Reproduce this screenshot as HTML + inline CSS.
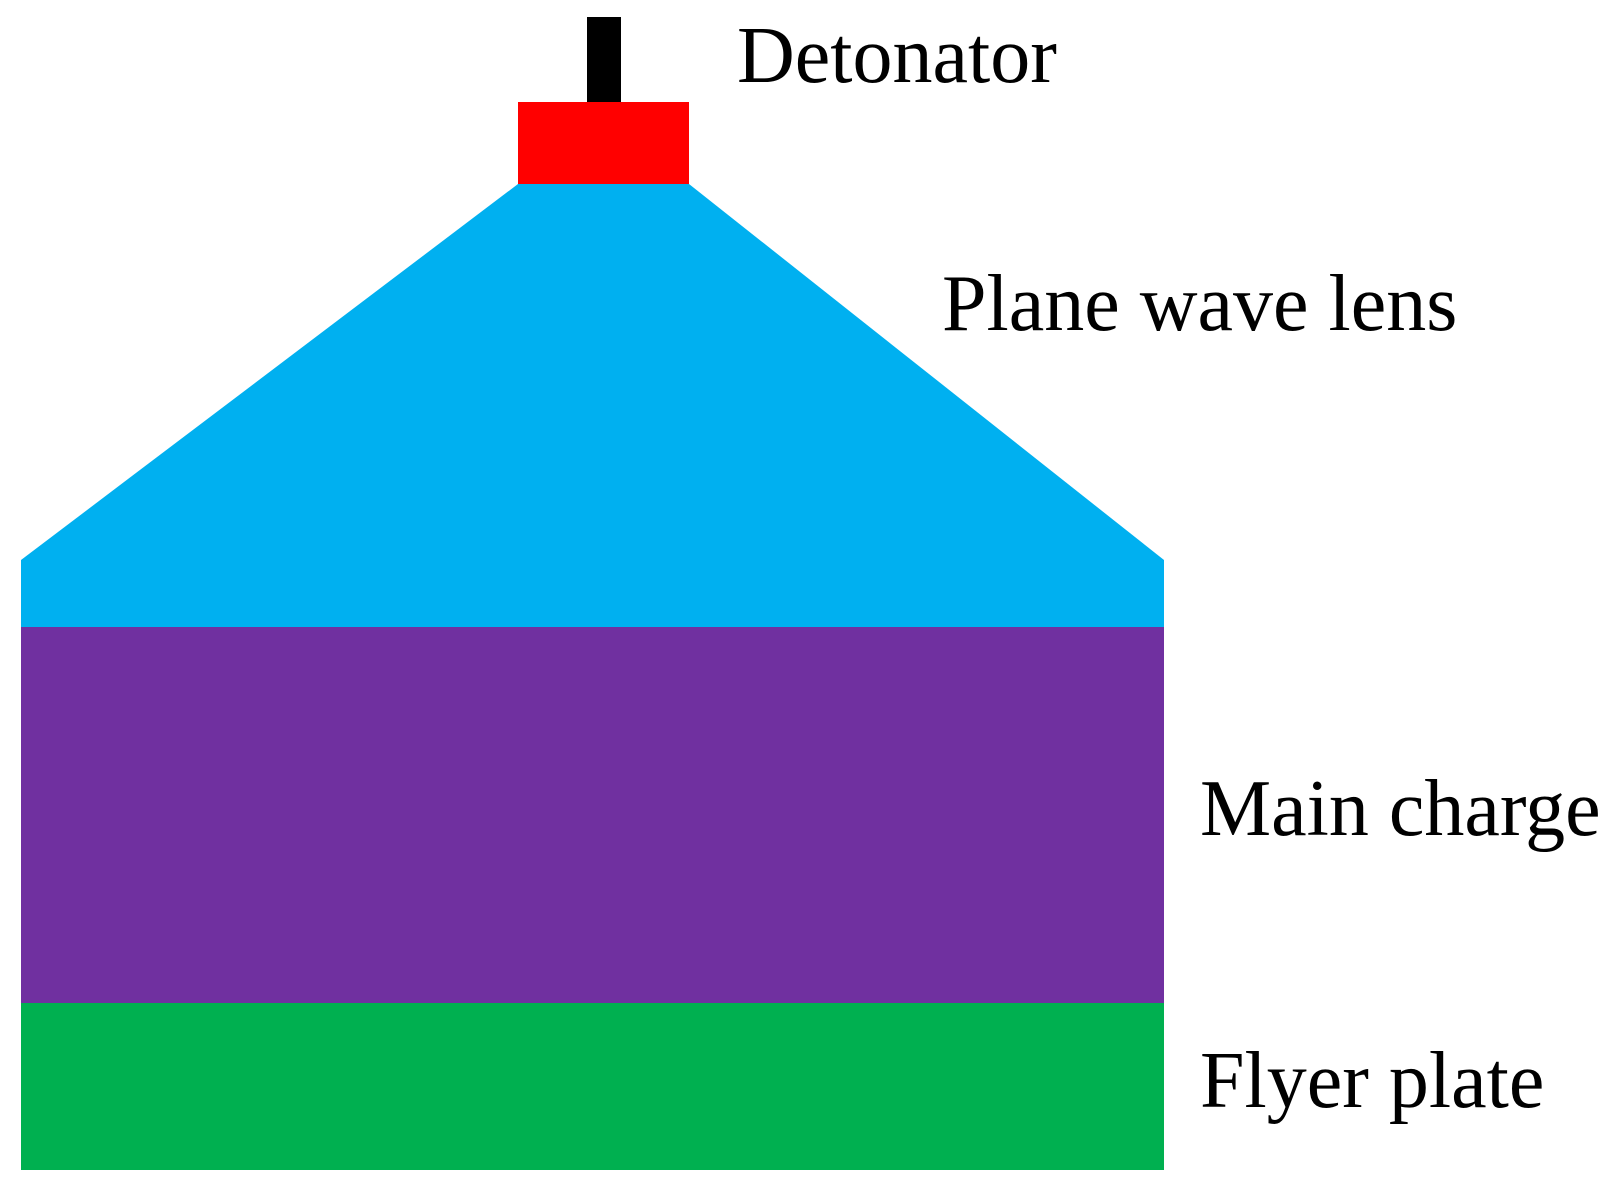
<!DOCTYPE html>
<html><head><style>body{margin:0;background:#fff}svg{display:block}</style></head>
<body>
<svg width="1615" height="1187" viewBox="0 0 1615 1187">
<rect x="587" y="17" width="34" height="86" fill="#000"/>
<rect x="518" y="102" width="171" height="82" fill="#ff0000"/>
<polygon points="518,184 689,184 1164,560 1164,627 21,627 21,560" fill="#00b0f0"/>
<rect x="21" y="627" width="1143" height="376" fill="#7030a0"/>
<rect x="21" y="1003" width="1143" height="167" fill="#00b050"/>
<g font-family="Liberation Serif, serif" font-size="80" fill="#000">
<text x="737" y="82">Detonator</text>
<text x="942" y="330">Plane wave lens</text>
<text x="1200" y="835">Main charge</text>
<text x="1200" y="1107">Flyer plate</text>
</g>
</svg>
</body></html>
